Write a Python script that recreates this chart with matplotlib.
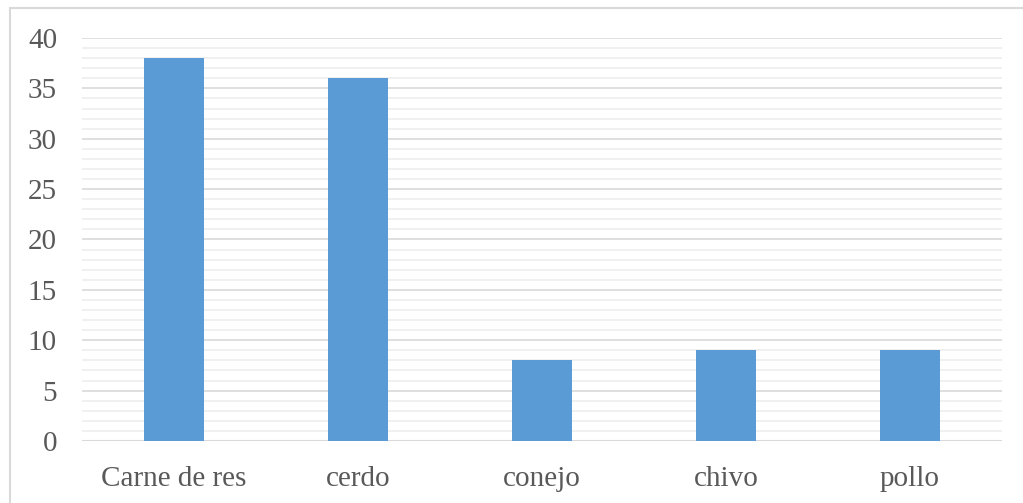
import matplotlib.pyplot as plt
from matplotlib.patches import Rectangle

categories = ['Carne de res', 'cerdo', 'conejo', 'chivo', 'pollo']
values = [38, 36, 8, 9, 9]

plt.rcParams['font.family'] = ['Liberation Serif', 'DejaVu Serif']

fig = plt.figure(figsize=(10.23, 5.03), dpi=100)
ax = fig.add_axes([0.0802, 0.1233, 0.8993, 0.8012])

# Outer chart frame
fig.patches.append(Rectangle((10 / 1023, -0.1), 1.2, 1 - 8 / 503 + 0.1,
                             transform=fig.transFigure, fill=False,
                             edgecolor='#d9d9d9', linewidth=1.5))

ax.bar(range(len(categories)), values, width=0.33, color='#5b9bd5', zorder=3)

ax.set_xlim(-0.5, len(categories) - 0.5)
ax.set_ylim(0, 40)
ax.set_yticks(range(0, 41, 5))
ax.set_yticks(range(0, 41, 1), minor=True)
ax.grid(axis='y', which='major', color='#d9d9d9', linewidth=1.2, zorder=0)
ax.grid(axis='y', which='minor', color='#eeeeee', linewidth=1.2, zorder=0)

ax.set_xticks(range(len(categories)))
ax.set_xticklabels(categories)
ax.tick_params(axis='both', which='both', length=0, labelsize=21,
               labelcolor='#595959')
ax.tick_params(axis='x', pad=18)
ax.tick_params(axis='y', pad=18)

for spine in ax.spines.values():
    spine.set_visible(False)
ax.axhline(0, color='#d9d9d9', linewidth=1.5, zorder=2)

fig.savefig('out.png', dpi=100)
